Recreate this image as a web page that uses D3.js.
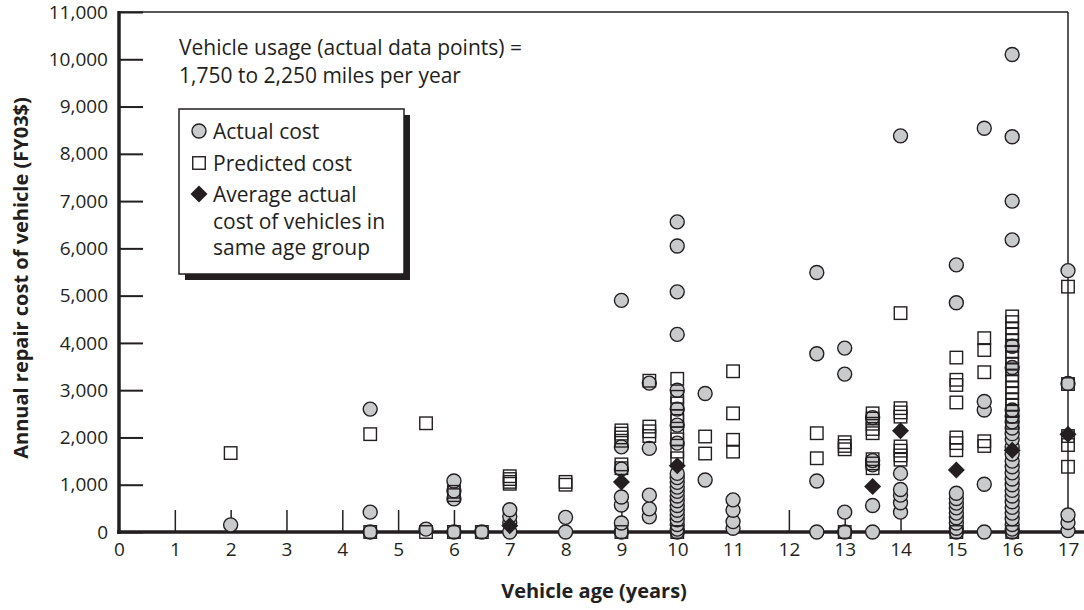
<!DOCTYPE html>
<html>
<head>
<meta charset="utf-8">
<script src="https://cdn.jsdelivr.net/npm/d3@7"></script>
<style>
  html, body { margin: 0; padding: 0; background: #fff; }
  svg { display: block; font-family: "Open Sans", "Noto Sans", sans-serif; }
</style>
</head>
<body>
<svg id="chart" width="1084" height="610"></svg>
<script>
// Vehicle age (years) and annual repair cost (FY03$), one [age, cost] pair per vehicle
const actualCost = [
  [2, 150],
  [4.5, 2600], [4.5, 420], [4.5, 0],
  [5.5, 60],
  [6, 1080], [6, 870], [6, 700], [6, 0],
  [6.5, 0],
  [7, 470], [7, 330], [7, 200], [7, 0],
  [8, 310], [8, 0],
  [9, 4900], [9, 1800], [9, 1330], [9, 740], [9, 570], [9, 190], [9, 0],
  [9.5, 3150], [9.5, 1770], [9.5, 780], [9.5, 490], [9.5, 320],
  [10, 6560], [10, 6050], [10, 5080], [10, 4180], [10, 3000], [10, 2600], [10, 2260], [10, 1880],
  [10, 1240], [10, 1150], [10, 1050], [10, 950], [10, 860], [10, 760], [10, 660], [10, 560],
  [10, 460], [10, 360], [10, 260], [10, 160], [10, 60], [10, 0],
  [10.5, 2930], [10.5, 1100],
  [11, 680], [11, 460], [11, 220], [11, 80],
  [12.5, 5490], [12.5, 3770], [12.5, 1080], [12.5, 0],
  [13, 3890], [13, 3340], [13, 420], [13, 0],
  [13.5, 2420], [13.5, 1510], [13.5, 1420], [13.5, 560], [13.5, 0],
  [14, 8380], [14, 1240], [14, 900], [14, 780], [14, 620], [14, 420],
  [15, 5650], [15, 4850], [15, 820], [15, 710], [15, 610], [15, 510], [15, 400], [15, 300],
  [15, 190], [15, 80], [15, 0],
  [15.5, 8540], [15.5, 2760], [15.5, 2580], [15.5, 1010], [15.5, 0],
  [16, 10100], [16, 8360], [16, 7000], [16, 6180], [16, 3930], [16, 3480], [16, 2580], [16, 2450],
  [16, 2330], [16, 2200], [16, 2080], [16, 1960], [16, 1800], [16, 1650], [16, 1500], [16, 1380],
  [16, 1250], [16, 1120], [16, 1000], [16, 880], [16, 760], [16, 640], [16, 520], [16, 400],
  [16, 280], [16, 160], [16, 60], [16, 0],
  [17, 5530], [17, 3140], [17, 360], [17, 200], [17, 30]
];

const predictedCost = [
  [2, 1670],
  [4.5, 2070], [4.5, 0],
  [5.5, 2300], [5.5, 0],
  [6, 850], [6, 780], [6, 0],
  [6.5, 0],
  [7, 1180], [7, 1120], [7, 1060], [7, 1020],
  [8, 1060], [8, 1000],
  [9, 2150], [9, 2080], [9, 2000], [9, 1930], [9, 1430], [9, 1350], [9, 0],
  [9.5, 3200], [9.5, 2230], [9.5, 2130], [9.5, 2030],
  [10, 3240], [10, 2860], [10, 2720], [10, 2450], [10, 2350], [10, 2090], [10, 1960], [10, 1700],
  [10, 1560], [10, 0],
  [10.5, 2020], [10.5, 1660],
  [11, 3400], [11, 2510], [11, 1950], [11, 1700],
  [12.5, 2090], [12.5, 1560],
  [13, 1900], [13, 1820], [13, 1750], [13, 0],
  [13.5, 2510], [13.5, 2400], [13.5, 2290], [13.5, 2180], [13.5, 2090], [13.5, 1540], [13.5, 1450], [13.5, 1350],
  [14, 4630], [14, 2620], [14, 2530], [14, 2440], [14, 1810], [14, 1720], [14, 1620], [14, 1530],
  [15, 3690], [15, 3220], [15, 3110], [15, 2740], [15, 2000], [15, 1880], [15, 1730], [15, 0],
  [15.5, 4100], [15.5, 3850], [15.5, 3380], [15.5, 1920], [15.5, 1820],
  [16, 4560], [16, 4440], [16, 4310], [16, 4190], [16, 4060], [16, 3940], [16, 3810], [16, 3690],
  [16, 3560], [16, 3440], [16, 3310], [16, 3190], [16, 3060], [16, 2940], [16, 2810], [16, 2690],
  [16, 2560], [16, 2440], [16, 2310], [16, 0],
  [17, 5190], [17, 3130], [17, 2030], [17, 1840], [17, 1380]
];

// Average actual cost of the vehicles in each age group
const averageCost = [
  [7, 130], [9, 1060], [10, 1400], [13.5, 960], [14, 2140], [15, 1310], [16, 1730], [17, 2070]
];

const xTicks = d3.range(0, 18);
const yTicks = d3.range(0, 11001, 1000);

const noteLines = ["Vehicle usage (actual data points) =", "1,750 to 2,250 miles per year"];
const legendItems = [
  { key: "actual", lines: ["Actual cost"] },
  { key: "predicted", lines: ["Predicted cost"] },
  { key: "average", lines: ["Average actual", "cost of vehicles in", "same age group"] }
];
const xTitle = "Vehicle age (years)";
const yTitle = "Annual repair cost of vehicle (FY03$)";

const INK = "#231f20";
const GREY = "#c9cacc";
const TEXT_PX = "21px";
const TICK_PX = "19px";
const TITLE_PX = "20px";

const svg = d3.select("#chart");
const x = d3.scaleLinear().domain([0, 17]).range([119, 1068]);
const y = d3.scaleLinear().domain([0, 11000]).range([532, 12]);

// frame: thin top and right edges
svg.append("line").attr("x1", x(0)).attr("x2", x(17)).attr("y1", y(11000)).attr("y2", y(11000))
  .attr("stroke", INK).attr("stroke-width", 1.5);
svg.append("line").attr("x1", x(17)).attr("x2", x(17)).attr("y1", y(11000)).attr("y2", y(0))
  .attr("stroke", INK).attr("stroke-width", 1.5);

// y axis: ticks pointing into the plot, labels outside
const yAxis = svg.append("g").attr("transform", `translate(${x(0)},0)`)
  .call(d3.axisLeft(y).tickValues(yTicks).tickFormat(d3.format(",")).tickSize(-24).tickPadding(11));
yAxis.select(".domain").remove();
yAxis.selectAll(".tick line").attr("stroke", INK).attr("stroke-width", 2);
yAxis.selectAll(".tick text").attr("fill", INK).style("font-size", TICK_PX).style("font-family", "'Open Sans', sans-serif");

// x axis: short ticks pointing upward
const xAxis = svg.append("g").attr("transform", `translate(0,${y(0)})`)
  .call(d3.axisBottom(x).tickValues(xTicks).tickSize(-22).tickPadding(11));
xAxis.select(".domain").remove();
xAxis.selectAll(".tick line").attr("stroke", INK).attr("stroke-width", 1.5)
  .attr("display", d => (d === 0 || d === 17) ? "none" : null);
xAxis.selectAll(".tick text").attr("fill", INK).style("font-size", TICK_PX).style("font-family", "'Open Sans', sans-serif");

// heavy axis lines
svg.append("line").attr("x1", x(0)).attr("x2", x(0)).attr("y1", y(11000) - 1).attr("y2", y(0) + 2)
  .attr("stroke", INK).attr("stroke-width", 3.5);
svg.append("line").attr("x1", x(0) - 2).attr("x2", 1084).attr("y1", y(0)).attr("y2", y(0))
  .attr("stroke", INK).attr("stroke-width", 3.5);

// axis titles
svg.append("text").attr("x", 594).attr("y", 598).attr("text-anchor", "middle")
  .attr("fill", INK).style("font-size", TITLE_PX).style("font-weight", "bold").text(xTitle);
svg.append("text").attr("transform", `translate(28,${(y(0) + y(11000)) / 2 + 6}) rotate(-90)`)
  .attr("text-anchor", "middle").attr("fill", INK)
  .style("font-size", TITLE_PX).style("font-weight", "bold").text(yTitle);

const diamondPath = (cx, cy, h) => `M${cx},${cy - h}L${cx + h},${cy}L${cx},${cy + h}L${cx - h},${cy}Z`;
const SQ = 12.5;

const marks = svg.append("g");
// actual costs: grey circles, drawn low to high so upper circles sit on top
marks.append("g").selectAll("circle")
  .data(actualCost.slice().sort((a, b) => a[1] - b[1]))
  .join("circle")
  .attr("cx", d => x(d[0])).attr("cy", d => y(d[1])).attr("r", 7)
  .attr("fill", GREY).attr("stroke", INK).attr("stroke-width", 1.4);

// predicted costs: open squares
marks.append("g").selectAll("rect")
  .data(predictedCost)
  .join("rect")
  .attr("x", d => x(d[0]) - SQ / 2).attr("y", d => y(d[1]) - SQ / 2)
  .attr("width", SQ).attr("height", SQ)
  .attr("fill", "none").attr("stroke", INK).attr("stroke-width", 1.4);

// group averages: black diamonds
marks.append("g").selectAll("path")
  .data(averageCost)
  .join("path")
  .attr("d", d => diamondPath(x(d[0]), y(d[1]), 8.5))
  .attr("fill", INK);

// usage note
svg.append("g").selectAll("text").data(noteLines).join("text")
  .attr("x", 179).attr("y", (d, i) => 55 + i * 28)
  .attr("fill", INK).style("font-size", TEXT_PX).text(d => d);

// legend box with drop shadow
const lg = svg.append("g");
const box = { x: 179, y: 109, w: 225, h: 165 };
lg.append("rect").attr("x", box.x + 6).attr("y", box.y + 6).attr("width", box.w).attr("height", box.h)
  .attr("fill", INK);
lg.append("rect").attr("x", box.x).attr("y", box.y).attr("width", box.w).attr("height", box.h)
  .attr("fill", "#fff").attr("stroke", INK).attr("stroke-width", 1.5);

const itemTop = [139, 171, 202];
const symX = 199;
legendItems.forEach((item, i) => {
  const cy = itemTop[i] - 8;
  if (item.key === "actual") {
    lg.append("circle").attr("cx", symX).attr("cy", cy).attr("r", 7)
      .attr("fill", GREY).attr("stroke", INK).attr("stroke-width", 1.4);
  } else if (item.key === "predicted") {
    lg.append("rect").attr("x", symX - SQ / 2).attr("y", cy - SQ / 2).attr("width", SQ).attr("height", SQ)
      .attr("fill", "#fff").attr("stroke", INK).attr("stroke-width", 1.4);
  } else {
    lg.append("path").attr("d", diamondPath(symX, cy, 8.5)).attr("fill", INK);
  }
  lg.append("g").selectAll("text").data(item.lines).join("text")
    .attr("x", 213).attr("y", (d, j) => itemTop[i] + j * 26.5)
    .attr("fill", INK).style("font-size", TEXT_PX).text(d => d);
});
</script>
</body>
</html>
